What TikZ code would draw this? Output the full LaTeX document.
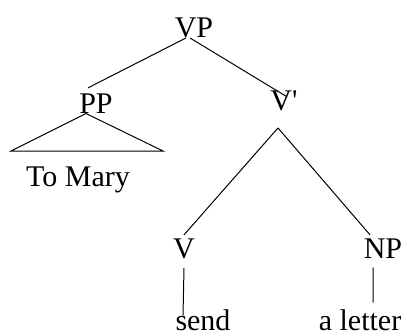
\documentclass[tikz,border=0pt]{standalone}
\usepackage{fontspec}
\setmainfont{Liberation Serif}
\usetikzlibrary{calc}

\begin{document}
\begin{tikzpicture}[x=1pt,y=-1pt,line width=1pt,
  every node/.style={font=\fontsize{30}{36}\selectfont,inner sep=0pt,anchor=base}]
\useasboundingbox (0,0) rectangle (407,335);
\path
 (194,37)  node (vp)     {VP}
 (96,113)  node (pp)     {PP}
 (284,110) node (vbar)   {V\textquotesingle}
 (184,258) node (v)      {V}
 (383,258) node (np)     {NP}
 (78,186)  node (tomary) {To Mary}
 (203,330) node (send)   {send}
 (360,330) node (letter) {a letter}
 (11,151)  coordinate (tl)
 (163,151) coordinate (tr)
;

\draw
   ([xshift=-8pt]vp.south) -- ([xshift=-8pt,yshift=5pt]pp.north)
   ([xshift=-4pt]vp.south) -- ([xshift=3pt,yshift=-7pt]vbar.north)
   ([xshift=-10pt]pp.south) -- (tl)
       -- (tr) -- cycle
   ([xshift=-6pt,yshift=-17pt]vbar.south) -- ([yshift=3pt]v.north)
   ([xshift=-6pt,yshift=-17pt]vbar.south) -- ([xshift=-13pt,yshift=3pt]np.north)
   ([yshift=-9pt]v.south) -- ([xshift=-20pt,yshift=-7pt]send.north)
   ([xshift=-10pt,yshift=-9pt]np.south) -- ([xshift=13pt,yshift=6pt]letter.north)
;
\end{tikzpicture}
\end{document}
